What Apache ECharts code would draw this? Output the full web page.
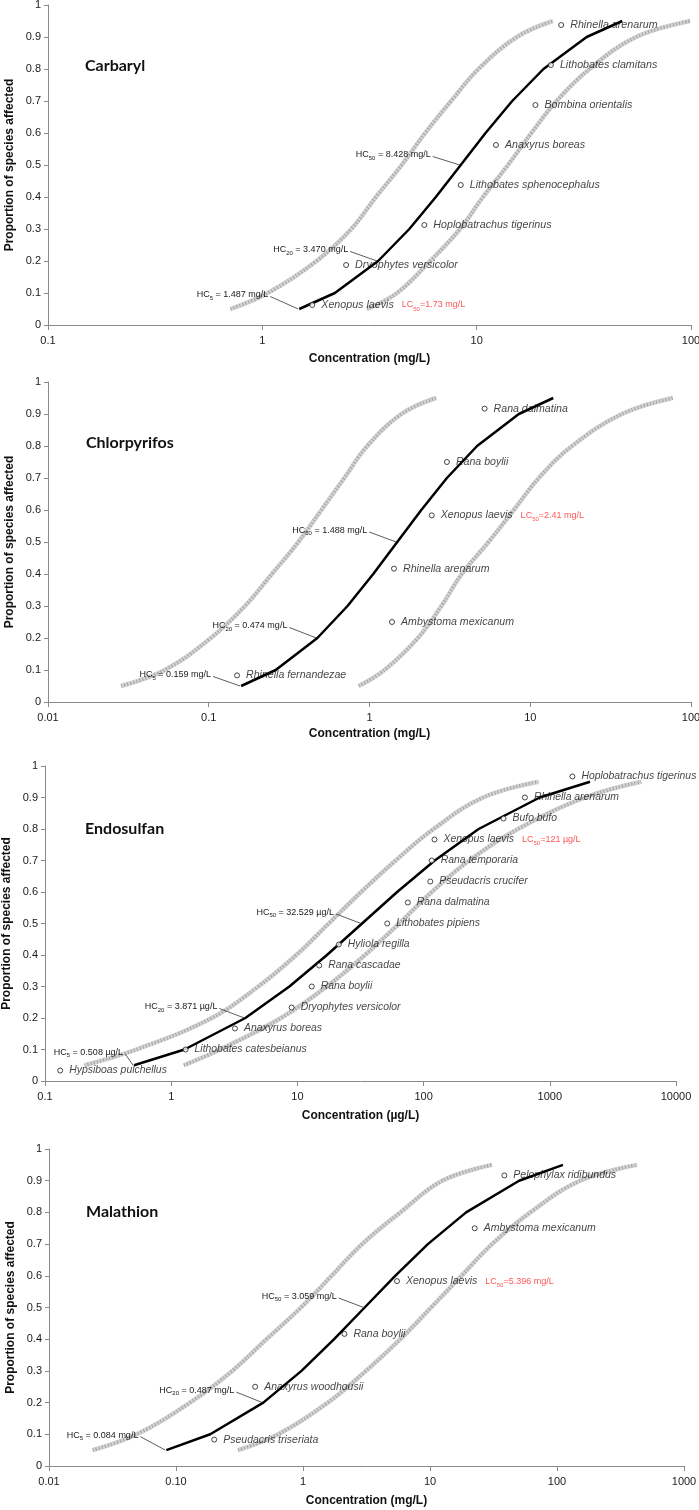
<!DOCTYPE html>
<html><head><meta charset="utf-8">
<script src="https://cdn.jsdelivr.net/npm/echarts@6/dist/echarts.min.js"></script>
<style>html,body{margin:0;padding:0;background:#fff}#c{width:699px;height:1510px}</style>
</head><body><div id="c"></div>
<script>
// ---------- shared ----------
const probLevels = [0.05, 0.1, 0.2, 0.3, 0.4, 0.5, 0.6, 0.7, 0.8, 0.9, 0.95];
const hcLevels = [0.05, 0.2, 0.5];
const hcSubs = ['5', '20', '50'];
const yTicks = ['0', '0.1', '0.2', '0.3', '0.4', '0.5', '0.6', '0.7', '0.8', '0.9', '1'];

// ---------- Carbaryl ----------
const carbarylSpecies = ['Xenopus laevis', 'Dryophytes versicolor', 'Hoplobatrachus tigerinus', 'Lithobates sphenocephalus', 'Anaxyrus boreas', 'Bombina orientalis', 'Lithobates clamitans', 'Rhinella arenarum'];
const carbarylLC50 = [1.71, 2.46, 5.70, 8.43, 12.3, 18.8, 22.2, 24.8];
const carbarylRank = [0.0625, 0.1875, 0.3125, 0.4375, 0.5625, 0.6875, 0.8125, 0.9375];
const carbarylFit = [1.487, 2.18, 3.47, 4.85, 6.45, 8.428, 11.0, 14.65, 20.5, 32.6, 47.8];
const carbarylLower = [0.71, 1.06, 1.79, 2.6, 3.39, 4.47, 5.75, 7.6, 10.2, 15.4, 22.7];
const carbarylUpper = [3.08, 4.25, 6.07, 8.36, 10.7, 14.0, 18.0, 23.6, 33.6, 55.5, 99];
const carbarylHC = [1.487, 3.470, 8.428];
const carbarylHCText = ['1.487 mg/L', '3.470 mg/L', '8.428 mg/L'];
const carbarylLCText = '1.73 mg/L';
const carbarylTicks = ['0.1', '1', '10', '100'];

// ---------- Chlorpyrifos ----------
const chlorSpecies = ['Rhinella fernandezae', 'Ambystoma mexicanum', 'Rhinella arenarum', 'Xenopus laevis', 'Rana boylii', 'Rana dalmatina'];
const chlorLC50 = [0.150, 1.38, 1.42, 2.44, 3.03, 5.2];
const chlorRank = [0.0833, 0.25, 0.4167, 0.5833, 0.75, 0.9167];
const chlorFit = [0.159, 0.261, 0.474, 0.730, 1.055, 1.488, 2.10, 3.03, 4.67, 8.49, 13.9];
const chlorLower = [0.0285, 0.0533, 0.103, 0.168, 0.247, 0.361, 0.502, 0.697, 0.968, 1.58, 2.59];
const chlorUpper = [0.857, 1.24, 2.0, 2.8, 3.75, 5.5, 7.9, 11.3, 18.2, 37.2, 76.9];
const chlorHC = [0.159, 0.474, 1.488];
const chlorHCText = ['0.159 mg/L', '0.474 mg/L', '1.488 mg/L'];
const chlorLCText = '2.41 mg/L';
const chlorTicks = ['0.01', '0.1', '1', '10', '100'];

// ---------- Endosulfan ----------
const endoSpecies = ['Hypsiboas pulchellus', 'Lithobates catesbeianus', 'Anaxyrus boreas', 'Dryophytes versicolor', 'Rana boylii', 'Rana cascadae', 'Hyliola regilla', 'Lithobates pipiens', 'Rana dalmatina', 'Pseudacris crucifer', 'Rana temporaria', 'Xenopus laevis', 'Bufo bufo', 'Rhinella arenarum', 'Hoplobatrachus tigerinus'];
const endoLC50 = [0.132, 1.30, 3.2, 9.0, 13.0, 14.9, 21.3, 51.5, 75, 113, 116, 122, 430, 635, 1510];
const endoRank = [0.0333, 0.1, 0.1667, 0.2333, 0.3, 0.3667, 0.4333, 0.5, 0.5667, 0.6333, 0.7, 0.7667, 0.8333, 0.9, 0.9667];
const endoFit = [0.508, 1.274, 3.871, 8.64, 17.15, 32.529, 61.7, 122.5, 273, 831, 2083];
const endoLower = [0.206, 0.53, 2.1, 4.9, 9.8, 17.7, 32, 60, 120, 296, 812];
const endoUpper = [1.26, 2.44, 7.4, 17.1, 34.3, 64, 116, 230, 560, 1900, 5300];
const endoHC = [0.508, 3.871, 32.529];
const endoHCText = ['0.508 µg/L', '3.871 µg/L', '32.529 µg/L'];
const endoLCText = '121 µg/L';
const endoTicks = ['0.1', '1', '10', '100', '1000', '10000'];

// ---------- Malathion ----------
const malaSpecies = ['Pseudacris triseriata', 'Anaxyrus woodhousii', 'Rana boylii', 'Xenopus laevis', 'Ambystoma mexicanum', 'Pelophylax ridibundus'];
const malaLC50 = [0.20, 0.42, 2.12, 5.5, 22.5, 38.5];
const malaRank = [0.0833, 0.25, 0.4167, 0.5833, 0.75, 0.9167];
const malaFit = [0.084, 0.186, 0.487, 0.973, 1.759, 3.059, 5.32, 9.62, 19.24, 50.3, 111.4];
const malaLower = [0.0221, 0.049, 0.129, 0.277, 0.516, 0.964, 1.68, 2.92, 5.84, 12.5, 30.8];
const malaUpper = [0.308, 0.636, 1.57, 3.13, 5.84, 10.2, 17.7, 30.8, 61.7, 152, 428];
const malaHC = [0.084, 0.487, 3.059];
const malaHCText = ['0.084 mg/L', '0.487 mg/L', '3.059 mg/L'];
const malaLCText = '5.396 mg/L';
const malaTicks = ['0.01', '0.10', '1', '10', '100', '1000'];

const panels = [
  {title: 'Carbaryl', unit: 'mg/L', species: carbarylSpecies, lc50: carbarylLC50, rank: carbarylRank, fit: carbarylFit, lower: carbarylLower, upper: carbarylUpper, hc: carbarylHC, hcText: carbarylHCText, lcText: carbarylLCText, ticks: carbarylTicks},
  {title: 'Chlorpyrifos', unit: 'mg/L', species: chlorSpecies, lc50: chlorLC50, rank: chlorRank, fit: chlorFit, lower: chlorLower, upper: chlorUpper, hc: chlorHC, hcText: chlorHCText, lcText: chlorLCText, ticks: chlorTicks},
  {title: 'Endosulfan', unit: 'µg/L', species: endoSpecies, lc50: endoLC50, rank: endoRank, fit: endoFit, lower: endoLower, upper: endoUpper, hc: endoHC, hcText: endoHCText, lcText: endoLCText, ticks: endoTicks},
  {title: 'Malathion', unit: 'mg/L', species: malaSpecies, lc50: malaLC50, rank: malaRank, fit: malaFit, lower: malaLower, upper: malaUpper, hc: malaHC, hcText: malaHCText, lcText: malaLCText, ticks: malaTicks}
];

// ---------- layout / style (pixels) ----------
const layout = [
  {left: 48, top: 5,    width: 643, height: 320, xGap: 28, titleX: 85, titleY: 66,   spSize: 10.7, hcOff: [[-31, -14], [-30, -11], [-30, -10]]},
  {left: 48, top: 382,  width: 643, height: 320, xGap: 26, titleX: 86, titleY: 443,  spSize: 10.6, hcOff: [[-30, -11], [-30, -12], [-30, -11.5]]},
  {left: 45, top: 766,  width: 631, height: 315, xGap: 29, titleX: 85, titleY: 829,  spSize: 10.4, hcOff: [[-11, -13], [-28, -11], [-28, -11]]},
  {left: 49, top: 1149, width: 635, height: 317, xGap: 29, titleX: 86, titleY: 1212, spSize: 10.5, hcOff: [[-28, -15], [-29, -12], [-28, -11]]}
];
const FONT = '"Liberation Sans", Arial, sans-serif';
const AXIS_COLOR = '#8a8a8a';

const chart = echarts.init(document.getElementById('c'), null, {renderer: 'canvas', width: 699, height: 1510});

const grids = [], xAxes = [], yAxes = [], series = [];
panels.forEach((p, i) => {
  const L = layout[i];
  grids.push({left: L.left, top: L.top, width: L.width, height: L.height, containLabel: false, outerBoundsMode: 'none'});
  const xmin = parseFloat(p.ticks[0]);
  const xmax = parseFloat(p.ticks[p.ticks.length - 1]);
  const e0 = Math.round(Math.log10(xmin));
  xAxes.push({
    type: 'log', logBase: 10, gridIndex: i, min: xmin, max: xmax,
    name: 'Concentration (' + p.unit + ')', nameLocation: 'middle', nameGap: L.xGap, nameMoveOverlap: false,
    nameTextStyle: {fontFamily: FONT, fontWeight: 'bold', fontSize: 12, color: '#111'},
    axisLine: {show: true, lineStyle: {color: AXIS_COLOR, width: 1}},
    axisTick: {show: true, length: 5, lineStyle: {color: AXIS_COLOR}},
    minorTick: {show: false}, splitLine: {show: false}, minorSplitLine: {show: false},
    axisLabel: {fontFamily: FONT, fontSize: 11, color: '#1a1a1a', margin: 10,
      formatter: v => p.ticks[Math.round(Math.log10(v)) - e0] || ''}
  });
  yAxes.push({
    type: 'value', gridIndex: i, min: 0, max: 1, interval: 0.1,
    name: 'Proportion of species affected', nameLocation: 'middle', nameGap: 32, nameMoveOverlap: false,
    nameTextStyle: {fontFamily: FONT, fontWeight: 'bold', fontSize: 12, color: '#111'},
    axisLine: {show: true, lineStyle: {color: AXIS_COLOR, width: 1}},
    axisTick: {show: true, length: 4, lineStyle: {color: AXIS_COLOR}},
    splitLine: {show: false},
    axisLabel: {fontFamily: FONT, fontSize: 11, color: '#1a1a1a', margin: 7,
      formatter: v => yTicks[Math.round(v * 10)]}
  });
  const band = (arr) => arr.map((x, k) => [x, probLevels[k]]);
  [p.lower, p.upper].forEach(arr => {
    series.push({type: 'line', xAxisIndex: i, yAxisIndex: i, data: band(arr), smooth: 0.4, showSymbol: false, silent: true, z: 1,
      lineStyle: {width: 4.5, color: '#d3d3d3'}});
    series.push({type: 'line', xAxisIndex: i, yAxisIndex: i, data: band(arr), smooth: 0.4, showSymbol: false, silent: true, z: 2,
      lineStyle: {width: 3.5, color: '#a3a3a3', type: [1, 2.2]}});
  });
  series.push({type: 'line', xAxisIndex: i, yAxisIndex: i, data: band(p.fit), smooth: false, showSymbol: false, silent: true, z: 3,
    lineStyle: {width: 2.5, color: '#000'}});
  series.push({
    type: 'scatter', xAxisIndex: i, yAxisIndex: i, silent: true, z: 5,
    data: p.species.map((n, k) => ({name: n, value: [p.lc50[k], p.rank[k]]})),
    symbol: 'circle', symbolSize: 5,
    itemStyle: {color: '#fff', borderColor: '#1a1a1a', borderWidth: 1},
    label: {
      show: true, position: 'right', distance: 6,
      formatter: prm => prm.name === 'Xenopus laevis'
        ? '{sp|' + prm.name + '}{g| }{lc|LC}{ls|50}{lc|=' + p.lcText + '}'
        : '{sp|' + prm.name + '}',
      rich: {
        sp: {fontFamily: FONT, fontStyle: 'italic', fontSize: L.spSize, color: '#111', lineHeight: 14, verticalAlign: 'middle'},
        g: {width: 8, fontSize: 9},
        lc: {fontFamily: FONT, fontSize: 9, color: '#ff2a2a', lineHeight: 14, verticalAlign: 'middle'},
        ls: {fontFamily: FONT, fontSize: 6, color: '#ff2a2a', lineHeight: 9, verticalAlign: 'bottom'}
      }
    }
  });
});

chart.setOption({
  animation: false,
  backgroundColor: '#fff',
  grid: grids, xAxis: xAxes, yAxis: yAxes, series: series
});

// annotations positioned through the axes' own scales
const graphics = [];
panels.forEach((p, i) => {
  const L = layout[i];
  graphics.push({type: 'text', x: L.titleX, y: L.titleY, z: 10,
    style: {text: p.title, font: 'bold 16px Lato, sans-serif', fill: '#111', verticalAlign: 'middle', align: 'left'}});
  p.hc.forEach((v, k) => {
    const pt = chart.convertToPixel({gridIndex: i}, [v, hcLevels[k]]);
    const [dx, dy] = L.hcOff[k];
    graphics.push({type: 'line', z: 9, shape: {x1: pt[0] + dx + 2, y1: pt[1] + dy + 1.5, x2: pt[0] - 1, y2: pt[1]},
      style: {stroke: '#333', lineWidth: 0.8}});
    graphics.push({type: 'text', z: 10, x: pt[0] + dx, y: pt[1] + dy,
      style: {
        text: '{n|HC}{s|' + hcSubs[k] + '}{n| = ' + p.hcText[k] + '}',
        align: 'right', verticalAlign: 'middle',
        rich: {
          n: {fontFamily: FONT, fontSize: 9, fill: '#1a1a1a', lineHeight: 12, verticalAlign: 'middle'},
          s: {fontFamily: FONT, fontSize: 6, fill: '#1a1a1a', lineHeight: 7, verticalAlign: 'bottom'}
        }
      }});
  });
});
chart.setOption({graphic: graphics});
</script>
</body></html>
